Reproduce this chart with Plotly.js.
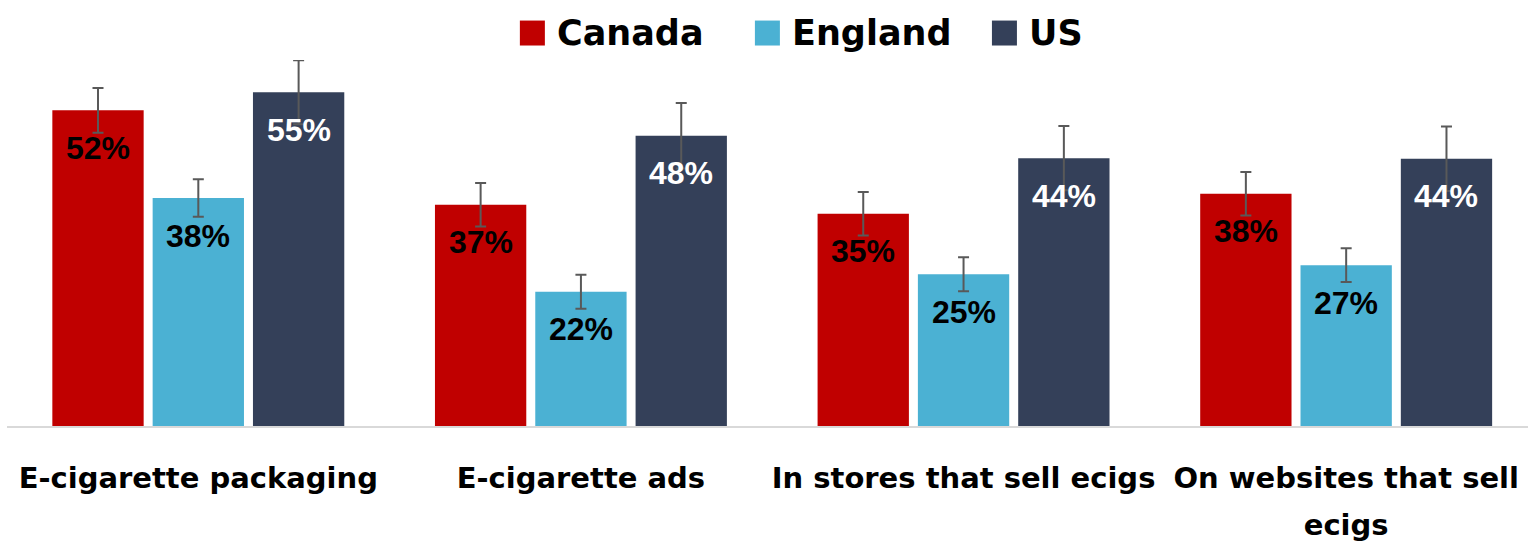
<!DOCTYPE html>
<html>
<head>
<meta charset="utf-8">
<script src="https://cdn.plot.ly/plotly-3.0.1.min.js"></script>
<style>
  html, body { margin: 0; padding: 0; background: #ffffff; }
  #chart { width: 1528px; height: 543px; }
</style>
</head>
<body>
<div id="chart"></div>
<script>
// ---- data ----
const categories = ["E-cigarette packaging", "E-cigarette ads", "In stores that sell ecigs", "On websites that sell<br>ecigs"];
const seriesNames = ["Canada", "England", "US"];
const canadaValues = [52.2, 36.6, 35.1, 38.4];
const englandValues = [37.7, 22.2, 25.1, 26.6];
const usValues = [55.2, 48.0, 44.3, 44.2];
const canadaErrors = [3.7, 3.6, 3.6, 3.6];
const englandErrors = [3.1, 2.8, 2.8, 2.8];
const usErrors = [5.3, 5.4, 5.3, 5.35];

// ---- style ----
const W = 1528, H = 543;
const M = { l: 7.2, r: 0, t: 60, b: 116.5 };
const seriesColors = ["#C00000", "#4BB1D3", "#344059"];
const labelColors = ["#000000", "#000000", "#ffffff"];
const bargap = 0.2135, bargroupgap = 0.0897;
const catPx = 382.57;          // pixels per category
const pxPerUnit = 6.055;       // pixels per percentage point
const tickGlyphSize = 29;      // visible tick label size
const tickLineSize = 35.4;     // nominal size -> line spacing 1.3 * size
const tickFont = { family: "DejaVu Sans", size: tickLineSize, color: "#000000", weight: 700 };
const legendFont = { family: "DejaVu Sans", size: 35, color: "#000000", weight: 700 };
const labelFont = { family: "Liberation Sans", size: 32, weight: 700 };
const legendStartPx = [520, 755, 992];
const legendSquare = 25, legendTextGap = 11, legendCenterY = 33;

const valueSets = [canadaValues, englandValues, usValues];
const errorSets = [canadaErrors, englandErrors, usErrors];

const plotW = W - M.l - M.r, plotH = H - M.t - M.b;
const xRange = [-0.5, -0.5 + plotW / catPx];
const yRange = [0, plotH / pxPerUnit];
const px2x = p => (p - M.l) / plotW;
const py2y = p => (H - M.b - p) / plotH;

const tickText = categories.map(c => c.split("<br>")
  .map(part => '<span style="font-size:' + tickGlyphSize + 'px">' + part + '</span>')
  .join("<br>"));

const traces = seriesNames.map((name, k) => ({
  type: "bar",
  name: name,
  x: categories,
  y: valueSets[k],
  marker: { color: seriesColors[k], line: { width: 0 } },
  error_y: { type: "data", array: errorSets[k], visible: true, color: "#595959", thickness: 2, width: 5.5 },
  showlegend: false,
  hoverinfo: "skip"
}));

// data labels
const slot = (1 - bargap) / seriesNames.length;
const annotations = [];
seriesNames.forEach((name, k) => {
  valueSets[k].forEach((v, i) => {
    annotations.push({
      x: i + (k - (seriesNames.length - 1) / 2) * slot,
      y: v,
      xref: "x", yref: "y",
      text: Math.round(v) + "%",
      showarrow: false,
      yanchor: "middle",
      xanchor: "center",
      yshift: -37.5,
      font: Object.assign({}, labelFont, { color: labelColors[k] })
    });
  });
});

// legend (manual, to get large square keys)
const shapes = [];
seriesNames.forEach((name, k) => {
  const x0 = legendStartPx[k];
  shapes.push({
    type: "rect", xref: "paper", yref: "paper",
    x0: px2x(x0), x1: px2x(x0 + legendSquare),
    y0: py2y(legendCenterY + legendSquare / 2), y1: py2y(legendCenterY - legendSquare / 2),
    fillcolor: seriesColors[k], line: { width: 0 }
  });
  annotations.push({
    xref: "paper", yref: "paper",
    x: px2x(x0 + legendSquare + legendTextGap), y: py2y(legendCenterY),
    xanchor: "left", yanchor: "middle",
    text: name, showarrow: false,
    font: legendFont, borderpad: 0
  });
});

const layout = {
  width: W, height: H,
  margin: { l: M.l, r: M.r, t: M.t, b: M.b, pad: 0 },
  paper_bgcolor: "#ffffff", plot_bgcolor: "#ffffff",
  barmode: "group", bargap: bargap, bargroupgap: bargroupgap,
  showlegend: false,
  xaxis: {
    type: "category", range: xRange, fixedrange: true,
    tickmode: "array", tickvals: categories, ticktext: tickText,
    showline: true, linecolor: "#D9D9D9", linewidth: 2,
    showgrid: false, zeroline: false, ticks: "",
    tickfont: tickFont, ticklabelstandoff: 18, automargin: false
  },
  yaxis: {
    range: yRange, fixedrange: true,
    showgrid: false, zeroline: false, showline: false,
    showticklabels: false, ticks: "", automargin: false
  },
  shapes: shapes,
  annotations: annotations
};

Plotly.newPlot("chart", traces, layout, { displayModeBar: false, staticPlot: true });
</script>
</body>
</html>
